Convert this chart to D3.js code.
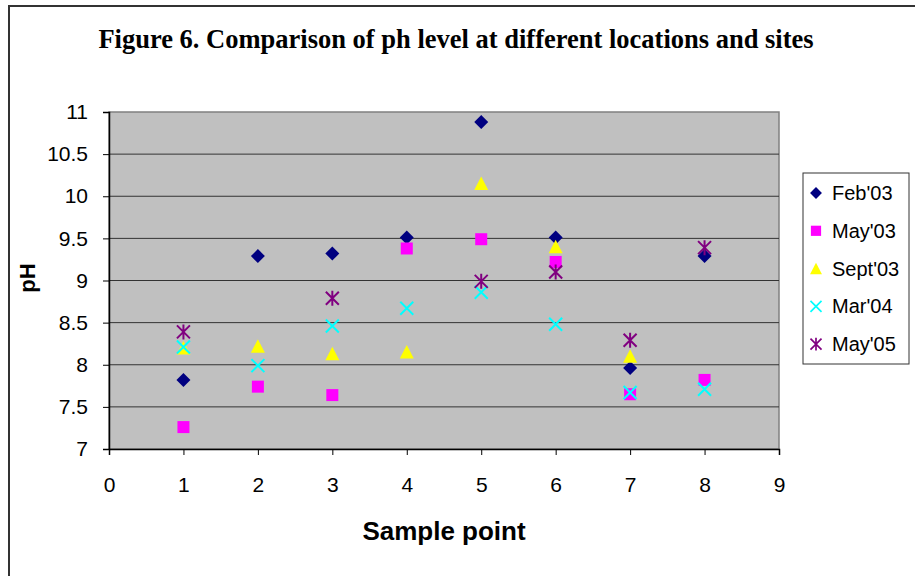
<!DOCTYPE html>
<html>
<head>
<meta charset="utf-8">
<script src="https://d3js.org/d3.v7.min.js"></script>
<style>
  body { margin: 0; background: #fff; }
</style>
</head>
<body>
<div id="my_dataviz"></div>
<script>

// data
var samplePoints = [1, 2, 3, 4, 5, 6, 7, 8];
var seriesNames = ["Feb'03", "May'03", "Sept'03", "Mar'04", "May'05"];
var feb03  = [7.82, 9.29, 9.32, 9.51, 10.88, 9.51, 7.96, 9.29];
var may03  = [7.26, 7.74, 7.64, 9.38, 9.49, 9.22, 7.65, 7.82];
var sept03 = [8.20, 8.22, 8.13, 8.15, 10.15, 9.40, 8.10, null];
var mar04  = [8.21, 7.99, 8.46, 8.67, 8.86, 8.48, 7.67, 7.71];
var may05  = [8.39, null, 8.79, null, 8.99, 9.10, 8.29, 9.39];
var xTicks = [0, 1, 2, 3, 4, 5, 6, 7, 8, 9];
var yTicks = [7, 7.5, 8, 8.5, 9, 9.5, 10, 10.5, 11];

var seriesValues = [feb03, may03, sept03, mar04, may05];
var seriesColors = ["#000080", "#ff00ff", "#ffff00", "#00ffff", "#800080"];
var seriesShapes = ["diamond", "square", "triangle", "cross", "star"];

var W = 915, H = 576;
var margin = {top: 112, left: 109},
  width = 779 - 109,
  height = 449 - 112;

var svg = d3.select("#my_dataviz")
  .append("svg")
  .attr("width", W)
  .attr("height", H);

// outer frame
svg.append("rect")
  .attr("x", 9).attr("y", 6)
  .attr("width", 920).attr("height", 600)
  .attr("fill", "none")
  .attr("stroke", "#333")
  .attr("stroke-width", 2);

// title
svg.append("text")
  .attr("x", 456).attr("y", 48)
  .attr("text-anchor", "middle")
  .style("font-family", "Liberation Serif, Times New Roman, serif")
  .style("font-weight", "bold")
  .style("font-size", "26.5px")
  .text("Figure 6. Comparison of ph level at different locations and sites");

var g = svg.append("g")
  .attr("transform", "translate(" + margin.left + "," + margin.top + ")");

var x = d3.scaleLinear().domain([0, 9]).range([0, width]);
var y = d3.scaleLinear().domain([7, 11]).range([height, 0]);

// plot background
g.append("rect")
  .attr("width", width).attr("height", height)
  .attr("fill", "#c0c0c0")
  .attr("stroke", "#808080")
  .attr("stroke-width", 1.5);

// gridlines
g.selectAll(".grid")
  .data(yTicks.filter(function(d) { return d > 7 && d < 11; }))
  .enter().append("line")
  .attr("x1", 0).attr("x2", width)
  .attr("y1", function(d) { return y(d); })
  .attr("y2", function(d) { return y(d); })
  .attr("stroke", "#333")
  .attr("stroke-width", 1);

// y axis
var yAxis = g.append("g")
  .call(d3.axisLeft(y).tickValues(yTicks).tickSize(6).tickPadding(15)
    .tickFormat(function(d) { return String(d); }));
yAxis.select(".domain").attr("stroke", "#000").attr("stroke-width", 1.5);
yAxis.selectAll(".tick line").attr("stroke", "#000");
yAxis.selectAll("text")
  .style("font-family", "Liberation Sans, Arial, sans-serif")
  .style("font-size", "21px")
  .attr("fill", "#000");

// x axis
var xAxis = g.append("g")
  .attr("transform", "translate(0," + height + ")")
  .call(d3.axisBottom(x).tickValues(xTicks).tickSize(6).tickPadding(22));
xAxis.select(".domain").attr("stroke", "#000").attr("stroke-width", 1.5);
xAxis.selectAll(".tick line").attr("stroke", "#000");
xAxis.selectAll("text")
  .style("font-family", "Liberation Sans, Arial, sans-serif")
  .style("font-size", "21px")
  .attr("fill", "#000");

// axis titles
svg.append("text")
  .attr("x", 444).attr("y", 540)
  .attr("text-anchor", "middle")
  .style("font-family", "Liberation Sans, Arial, sans-serif")
  .style("font-weight", "bold")
  .style("font-size", "26px")
  .text("Sample point");

svg.append("text")
  .attr("transform", "translate(35,278) rotate(-90)")
  .attr("text-anchor", "middle")
  .style("font-family", "Liberation Sans, Arial, sans-serif")
  .style("font-weight", "bold")
  .style("font-size", "22px")
  .text("pH");

// marker drawing
function drawMarker(sel, shape, color) {
  if (shape === "diamond") {
    sel.append("path").attr("d", "M0,-7L7,0L0,7L-7,0Z").attr("fill", color);
  } else if (shape === "square") {
    sel.append("rect").attr("x", -6).attr("y", -6).attr("width", 12).attr("height", 12).attr("fill", color);
  } else if (shape === "triangle") {
    sel.append("path").attr("d", "M0,-7L7,6.5L-7,6.5Z").attr("fill", color);
  } else if (shape === "cross") {
    sel.append("path").attr("d", "M-6.5,-6.5L6.5,6.5M6.5,-6.5L-6.5,6.5").attr("stroke", color).attr("stroke-width", 2).attr("fill", "none");
  } else if (shape === "star") {
    sel.append("path").attr("d", "M-6.5,-6.5L6.5,6.5M6.5,-6.5L-6.5,6.5M0,-7.5L0,7.5").attr("stroke", color).attr("stroke-width", 2).attr("fill", "none");
  }
}

seriesNames.forEach(function(name, i) {
  var pts = samplePoints.map(function(p, j) { return {x: p, v: seriesValues[i][j]}; })
    .filter(function(d) { return d.v != null; });
  g.selectAll(".pt" + i)
    .data(pts)
    .enter().append("g")
    .attr("transform", function(d) { return "translate(" + x(d.x) + "," + y(d.v) + ")"; })
    .each(function() { drawMarker(d3.select(this), seriesShapes[i], seriesColors[i]); });
});

// legend
var legend = svg.append("g").attr("transform", "translate(803,173)");
legend.append("rect")
  .attr("width", 106).attr("height", 191)
  .attr("fill", "#fff")
  .attr("stroke", "#333")
  .attr("stroke-width", 1);

seriesNames.forEach(function(name, i) {
  var item = legend.append("g").attr("transform", "translate(13," + (20 + i * 37.8) + ")");
  var m = item.append("g").attr("transform", "scale(0.85)");
  drawMarker(m, seriesShapes[i], seriesColors[i]);
  item.append("text")
    .attr("x", 16).attr("y", 7)
    .style("font-family", "Liberation Sans, Arial, sans-serif")
    .style("font-size", "20px")
    .text(name);
});

</script>
</body>
</html>
